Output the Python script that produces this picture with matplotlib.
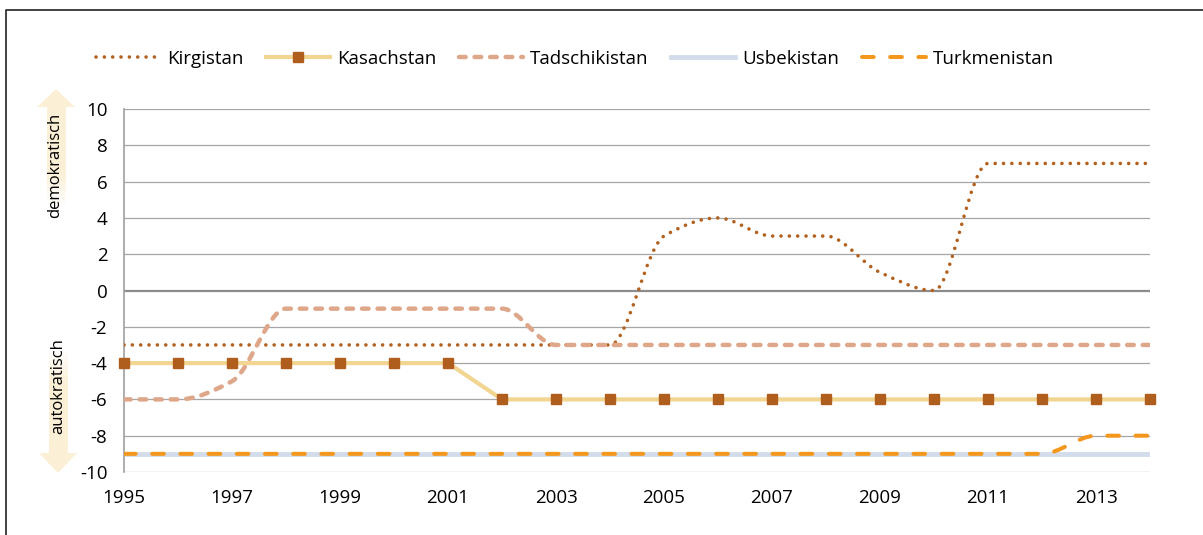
import numpy as np
import matplotlib.pyplot as plt
from matplotlib.path import Path
from matplotlib.patches import PathPatch, Polygon, Rectangle
from matplotlib.lines import Line2D

plt.rcParams['font.family'] = ['Open Sans', 'DejaVu Sans']
plt.rcParams['axes.unicode_minus'] = False

# Daten (Polity-Werte)
years = [1995, 1996, 1997, 1998, 1999, 2000, 2001, 2002, 2003, 2004,
         2005, 2006, 2007, 2008, 2009, 2010, 2011, 2012, 2013, 2014]
kirgistan = [-3, -3, -3, -3, -3, -3, -3, -3, -3, -3,
             3, 4, 3, 3, 1, 0, 7, 7, 7, 7]
kasachstan = [-4, -4, -4, -4, -4, -4, -4, -6, -6, -6,
              -6, -6, -6, -6, -6, -6, -6, -6, -6, -6]
tadschikistan = [-6, -6, -5, -1, -1, -1, -1, -1, -3, -3,
                 -3, -3, -3, -3, -3, -3, -3, -3, -3, -3]
usbekistan = [-9, -9, -9, -9, -9, -9, -9, -9, -9, -9,
              -9, -9, -9, -9, -9, -9, -9, -9, -9, -9]
turkmenistan = [-9, -9, -9, -9, -9, -9, -9, -9, -9, -9,
                -9, -9, -9, -9, -9, -9, -9, -9, -8, -8]
xtick_years = [1995, 1997, 1999, 2001, 2003, 2005, 2007, 2009, 2011, 2013]
yticks = [-10, -8, -6, -4, -2, 0, 2, 4, 6, 8, 10]

c_kir = '#B3611F'
c_kas = '#F1D590'
c_kas_m = '#B05E1E'
c_tad = '#DFA78A'
c_usb = '#D3DCEB'
c_tur = '#F4981D'
c_arrow = '#FBEFD6'


def smooth_path(x, y):
    # geglättete Linie wie in Excel (monotone kubische Bezier-Segmente)
    x = np.asarray(x, float)
    y = np.asarray(y, float)
    d = np.diff(y) / np.diff(x)
    m = np.zeros(len(x))
    for k in range(1, len(x) - 1):
        if d[k - 1] * d[k] > 0:
            m[k] = 2.0 / (1.0 / d[k - 1] + 1.0 / d[k])
    verts = [(x[0], y[0])]
    codes = [Path.MOVETO]
    for i in range(len(x) - 1):
        h = x[i + 1] - x[i]
        verts += [(x[i] + h / 3, y[i] + m[i] * h / 3),
                  (x[i + 1] - h / 3, y[i + 1] - m[i + 1] * h / 3),
                  (x[i + 1], y[i + 1])]
        codes += [Path.CURVE4] * 3
    return Path(verts, codes)


fig = plt.figure(figsize=(12.03, 5.35), dpi=100)
ax = fig.add_axes([124 / 1203, 1 - 472 / 535, 1026 / 1203, 363 / 535])
ax.set_zorder(2)

ax.plot(years, usbekistan, color=c_usb, lw=3.5, solid_capstyle='butt', zorder=2)
ax.add_patch(PathPatch(smooth_path(years, turkmenistan), fill=False, ec=c_tur, lw=2.9,
                       ls=(0, (2.9, 4.1)), capstyle='round', zorder=3))
ax.plot(years, kasachstan, color=c_kas, lw=3.0, marker='s', ms=7, mfc=c_kas_m,
        mec=c_kas_m, clip_on=False, zorder=6)
ax.add_patch(PathPatch(smooth_path(years, kirgistan), fill=False, ec=c_kir, lw=2.6,
                       ls=(0, (0.01, 2.3)), capstyle='round', zorder=4))
ax.add_patch(PathPatch(smooth_path(years, tadschikistan), fill=False, ec=c_tad, lw=3.2,
                       ls=(0, (1.5, 2.0)), capstyle='round', zorder=5))

ax.set_xlim(1995, 2014)
ax.set_ylim(-10, 10)
ax.set_yticks(yticks)
ax.set_xticks(xtick_years)
ax.tick_params(length=0, labelsize=13.5, colors='black')
ax.tick_params(axis='y', pad=12)
ax.tick_params(axis='x', pad=12)
for v in yticks:
    if v == 0:
        ax.axhline(v, color='#8C8C8C', lw=1.6, zorder=1)
    else:
        ax.axhline(v, color='#A6A6A6', lw=0.9, zorder=1)
for s in ['top', 'right', 'bottom']:
    ax.spines[s].set_visible(False)
ax.spines['left'].set_color('#A0A0A0')
ax.spines['left'].set_linewidth(1.2)

# Legende
handles = [
    Line2D([], [], color=c_kir, lw=2.6, ls=(0, (0.01, 2.3)), dash_capstyle='round'),
    Line2D([], [], color=c_kas, lw=3.0, marker='s', ms=7, mfc=c_kas_m, mec=c_kas_m),
    Line2D([], [], color=c_tad, lw=3.2, ls=(0, (1.5, 2.0)), dash_capstyle='round'),
    Line2D([], [], color=c_usb, lw=3.5),
    Line2D([], [], color=c_tur, lw=2.9, ls=(0, (2.9, 4.1)), dash_capstyle='round'),
]
labels = ['Kirgistan', 'Kasachstan', 'Tadschikistan', 'Usbekistan', 'Turkmenistan']
fig.legend(handles, labels, loc='center', bbox_to_anchor=(575 / 1203, 1 - 59 / 535),
           ncol=5, frameon=False, fontsize=13.5, handlelength=3.4,
           handletextpad=0.4, columnspacing=1.2, numpoints=1)

# Rahmen und Pfeile in Pixelkoordinaten
ov = fig.add_axes([0, 0, 1, 1])
ov.set_xlim(0, 1203)
ov.set_ylim(535, 0)
ov.axis('off')
ov.set_zorder(0)
ov.plot([6, 6, 1203], [535, 10, 10], color='#333333', lw=1.3)


def arrow(ax_, xc, tip, base, end, head_w, shaft_w):
    ax_.add_patch(Polygon([(xc - head_w / 2, base), (xc + head_w / 2, base), (xc, tip)],
                          closed=True, fc=c_arrow, ec='none'))
    n = 40
    edges = np.linspace(base, end, n + 1)
    for i in range(n):
        frac = i / n
        alpha = 1.0 if frac < 0.65 else max(0.0, 1 - (frac - 0.65) / 0.35)
        y0, y1 = sorted([edges[i], edges[i + 1]])
        ax_.add_patch(Rectangle((xc - shaft_w / 2, y0), shaft_w, y1 - y0, fc=c_arrow,
                                ec='none', alpha=alpha, antialiased=False))


arrow(ov, 56, 89, 107, 205, 38, 19)
arrow(ov, 58, 473, 453, 350, 38, 19)
ov.text(55, 165, 'demokratisch', rotation=90, ha='center', va='center', fontsize=12)
ov.text(58, 386, 'autokratisch', rotation=90, ha='center', va='center', fontsize=12)

fig.savefig('out.png', dpi=100)
